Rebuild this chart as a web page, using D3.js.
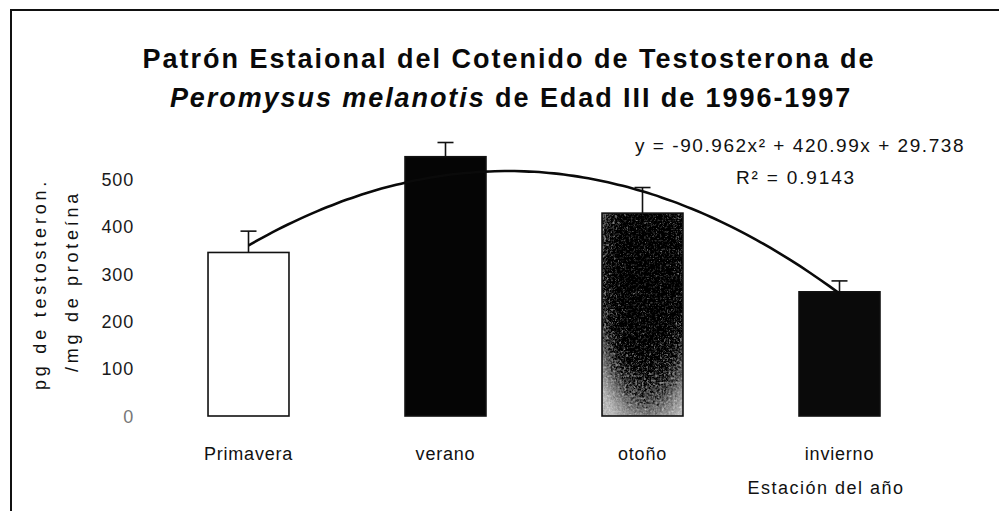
<!DOCTYPE html>
<html>
<head>
<meta charset="utf-8">
<script src="https://cdn.jsdelivr.net/npm/d3@7"></script>
<style>
  html, body { margin: 0; padding: 0; background: #fff; }
  svg { display: block; font-family: "Liberation Sans", Arial, sans-serif; }
</style>
</head>
<body>
<svg id="chart" width="999" height="512"></svg>
<script>
// ---- data ----
const categories = ["Primavera", "verano", "otoño", "invierno"];
const means = [345, 547, 428, 262];
const errorTops = [390, 577, 482, 285];
const yTicks = [0, 100, 200, 300, 400, 500];
const trendCoeffs = [-90.962, 420.99, 29.738]; // y = a x^2 + b x + c
const titleLine1 = "Patrón Estaional del Cotenido de Testosterona de";
const equationText = "y = -90.962x² + 420.99x + 29.738";
const r2Text = "R² = 0.9143";
const yTitle = ["pg de testosteron.", "/mg de proteína"];
const xTitle = "Estación del año";

const svg = d3.select("#chart");

function fit(sel, target) {
  const node = sel.node();
  const n = node.textContent.length;
  const w = node.getComputedTextLength();
  sel.attr("letter-spacing", ((target - w) / n).toFixed(2));
}

// defs: gradient + grain
const defs = svg.append("defs");
const rg = defs.append("radialGradient").attr("id", "otoGrad")
  .attr("cx", 0.55).attr("cy", 0.3).attr("r", 0.8);
[[0, "#424242"], [0.45, "#5a5a5a"], [0.8, "#939393"], [1, "#d4d4d4"]]
  .forEach(([o, c]) => rg.append("stop").attr("offset", o).attr("stop-color", c));
const f = defs.append("filter").attr("id", "grain")
  .attr("x", 0).attr("y", 0).attr("width", 1).attr("height", 1);
f.append("feTurbulence").attr("type", "fractalNoise").attr("baseFrequency", 0.45)
  .attr("numOctaves", 2).attr("seed", 7).attr("result", "noise");
f.append("feColorMatrix").attr("in", "noise").attr("type", "saturate")
  .attr("values", 0).attr("result", "gn");
f.append("feComposite").attr("in", "SourceGraphic").attr("in2", "gn")
  .attr("operator", "arithmetic").attr("k1", 0).attr("k2", 1).attr("k3", 0.9).attr("k4", -0.42)
  .attr("result", "mix");
f.append("feComposite").attr("in", "mix").attr("in2", "SourceGraphic").attr("operator", "in");

// frame
svg.append("path").attr("d", "M1000,10 H11 V511")
  .attr("fill", "none").attr("stroke", "#111").attr("stroke-width", 2);

// scales
const x = d3.scaleBand().domain(categories).range([150, 938])
  .paddingInner(0.589).paddingOuter(0.2945);
const y = d3.scaleLinear().domain([0, 500]).range([416, 179]);

// y axis
const yAxis = svg.append("g").attr("transform", "translate(134,0)")
  .call(d3.axisLeft(y).tickValues(yTicks).tickSize(0).tickPadding(0).tickFormat(d3.format("d")));
yAxis.select(".domain").remove();
yAxis.selectAll("text").attr("font-family", "Liberation Sans, Arial, sans-serif")
  .attr("font-size", 18).attr("fill", "#1a1a1a").attr("letter-spacing", 0.8)
  .attr("dy", "0.35em");
yAxis.selectAll(".tick").filter(d => d === 0).select("text").attr("fill", "#777");

// bars
const fills = ["#ffffff", "#050505", "url(#otoGrad)", "#0a0a0a"];
svg.append("g").selectAll("rect.bar").data(categories).join("rect")
  .attr("class", "bar")
  .attr("x", d => x(d)).attr("width", x.bandwidth())
  .attr("y", (d, i) => y(means[i])).attr("height", (d, i) => y(0) - y(means[i]))
  .attr("fill", (d, i) => fills[i])
  .attr("filter", (d, i) => i === 2 ? "url(#grain)" : null);
svg.append("g").selectAll("rect.border").data(categories).join("rect")
  .attr("class", "border")
  .attr("x", d => x(d)).attr("width", x.bandwidth())
  .attr("y", (d, i) => y(means[i])).attr("height", (d, i) => y(0) - y(means[i]))
  .attr("fill", "none").attr("stroke", "#111").attr("stroke-width", 1.6);

// error bars
const eg = svg.append("g").attr("stroke", "#111").attr("stroke-width", 1.6);
categories.forEach((c, i) => {
  const cx = x(c) + x.bandwidth() / 2;
  eg.append("line").attr("x1", cx).attr("x2", cx).attr("y1", y(means[i])).attr("y2", y(errorTops[i]));
  eg.append("line").attr("x1", cx - 8).attr("x2", cx + 8).attr("y1", y(errorTops[i])).attr("y2", y(errorTops[i]));
});

// trend line (polynomial, order 2) over category index 1..4
const xi = d3.scaleLinear().domain([1, categories.length])
  .range([x(categories[0]) + x.bandwidth() / 2, x(categories[categories.length - 1]) + x.bandwidth() / 2]);
const poly = t => trendCoeffs[0] * t * t + trendCoeffs[1] * t + trendCoeffs[2];
const ts = d3.range(1, categories.length + 0.0001, 0.05);
svg.append("path").datum(ts)
  .attr("d", d3.line().x(t => xi(t)).y(t => y(poly(t))).curve(d3.curveMonotoneX))
  .attr("fill", "none").attr("stroke", "#0a0a0a").attr("stroke-width", 2.6)
  .attr("stroke-linejoin", "round");

// title
const t1 = svg.append("text").attr("x", 509).attr("y", 68).attr("text-anchor", "middle")
  .attr("font-weight", "bold").attr("font-size", 27).attr("fill", "#0a0a0a").text(titleLine1);
fit(t1, 733);
const t2 = svg.append("text").attr("x", 511).attr("y", 107).attr("text-anchor", "middle")
  .attr("font-weight", "bold").attr("font-size", 27).attr("fill", "#0a0a0a");
t2.append("tspan").attr("font-style", "italic").text("Peromysus melanotis");
t2.append("tspan").text(" de Edad III de 1996-1997");
fit(t2, 682);

// equation
const eq = svg.append("text").attr("x", 800).attr("y", 152).attr("text-anchor", "middle")
  .attr("font-size", 19).attr("fill", "#111").text(equationText);
fit(eq, 330);
const r2 = svg.append("text").attr("x", 796).attr("y", 184).attr("text-anchor", "middle")
  .attr("font-size", 19).attr("fill", "#111").text(r2Text);
fit(r2, 120);

// x labels
svg.append("g").selectAll("text").data(categories).join("text")
  .attr("x", d => x(d) + x.bandwidth() / 2).attr("y", 460)
  .attr("text-anchor", "middle").attr("font-size", 18).attr("fill", "#111")
  .attr("letter-spacing", 0.8).text(d => d);

const xt = svg.append("text").attr("x", 826).attr("y", 494).attr("text-anchor", "middle")
  .attr("font-size", 18).attr("fill", "#111").text(xTitle);
fit(xt, 157);

// y title
const ya = svg.append("text").attr("transform", "translate(46,284) rotate(-90)")
  .attr("text-anchor", "middle").attr("font-size", 18).attr("fill", "#111").text(yTitle[0]);
fit(ya, 212);
const yb = svg.append("text").attr("transform", "translate(78,281) rotate(-90)")
  .attr("text-anchor", "middle").attr("font-size", 18).attr("fill", "#111").text(yTitle[1]);
fit(yb, 182);
</script>
</body>
</html>
